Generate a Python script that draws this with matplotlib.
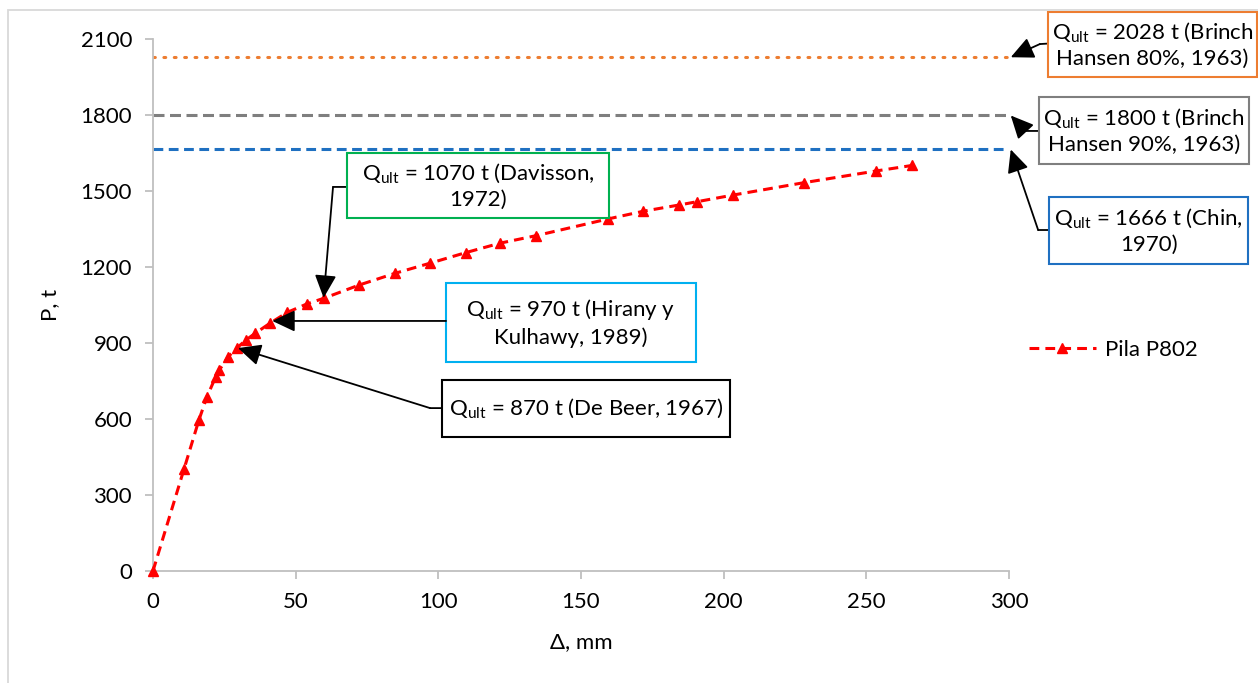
import matplotlib
matplotlib.use("Agg")
import matplotlib.pyplot as plt
from matplotlib.patches import Rectangle

plt.rcParams["font.family"] = ["Lato", "DejaVu Sans"]
plt.rcParams["mathtext.fontset"] = "custom"
plt.rcParams["mathtext.rm"] = "Lato"
plt.rcParams["mathtext.it"] = "Lato:italic"

# load-settlement curve, pile P802
delta_mm = [0, 10.9, 16.1, 18.9, 22.0, 23.3, 26.4, 29.3, 32.6, 35.8, 41.0, 47.1,
            53.9, 60.0, 72.3, 84.8, 97.1, 109.7, 121.6, 134.4, 159.6, 171.8,
            184.5, 190.8, 203.3, 228.2, 253.4, 266.1]
load_t = [0, 403, 596, 687, 767, 794, 846, 879, 912, 938, 978, 1021,
          1054, 1077, 1129, 1175, 1215, 1257, 1294, 1324, 1390, 1420,
          1445, 1458, 1484, 1533, 1579, 1601]

# reference capacities drawn as horizontal lines
ref_values = [2028, 1800, 1666]
ref_colors = ["#ED7D31", "#7F7F7F", "#1F70C1"]
ref_styles = [(0, (0.6, 2.8)), (0, (3.6, 1.8)), (0, (3.2, 1.8))]

Q = r"Q$_{\mathrm{ult}}$"
# annotation boxes: text, box (x0, x1, y0, y1) in data units, border colour
notes = [
    (Q + " = 1070 t (Davisson,\n1972)", (68.0, 159.8, 1394, 1650), "#00B050"),
    (Q + " = 970 t (Hirany y\nKulhawy, 1989)", (102.7, 190.3, 825, 1137), "#00B0F0"),
    (Q + " = 870 t (De Beer, 1967)", (101.3, 202.2, 529, 754), "black"),
    (Q + " = 2028 t (Brinch\nHansen 80%, 1963)", (313.7, 386.9, 1950, 2207), "#ED7D31"),
    (Q + " = 1800 t (Brinch\nHansen 90%, 1963)", (310.5, 384.2, 1607, 1871), "#7F7F7F"),
    (Q + " = 1666 t (Chin,\n1970)", (314.1, 383.8, 1212, 1476), "#1F70C1"),
]
# connector paths: box edge -> elbow -> arrow tip
connectors = [
    [(68.0, 1516), (63.1, 1516), (59.8, 1078)],
    [(102.7, 987), (102.7, 987), (41.8, 987)],
    [(101.3, 643), (97.1, 643), (29.8, 880)],
    [(313.7, 2082), (310.8, 2080), (300.6, 2028)],
    [(310.5, 1737), (305.6, 1737), (300.6, 1798)],
    [(314.1, 1346), (310.2, 1346), (300.6, 1664)],
]

FS = 16

fig = plt.figure(figsize=(12.58, 6.83), dpi=100)
ax = fig.add_axes([0.1216, 0.164, 0.6805, 0.7789])

for v, c, ls in zip(ref_values, ref_colors, ref_styles):
    ax.plot([0, 300], [v, v], color=c, lw=2.2, linestyle=ls,
            dash_capstyle="round" if c == "#ED7D31" else "butt")

ax.plot(delta_mm, load_t, color="#FF0000", lw=2.2, linestyle=(0, (3.2, 2.0)),
        marker="^", markersize=7.5, markeredgecolor="#FF0000",
        markerfacecolor="#FF0000", label="Pila P802", clip_on=False, zorder=5)

for (txt, (x0, x1, y0, y1), ec) in notes:
    ax.add_patch(Rectangle((x0, y0), x1 - x0, y1 - y0, facecolor="white",
                           edgecolor=ec, lw=1.5, clip_on=False, zorder=6))
    ax.text((x0 + x1) / 2, (y0 + y1) / 2, txt, ha="center", va="center",
            fontsize=FS, linespacing=1.3, zorder=7)

for path in connectors:
    (ex, ey), (mx, my), (tx, ty) = path
    ax.annotate("", xy=(mx, my), xytext=(ex, ey), annotation_clip=False,
                arrowprops=dict(arrowstyle="-", color="black", lw=1.3,
                                shrinkA=0, shrinkB=0))
    ax.annotate("", xy=(tx, ty), xytext=(mx, my), annotation_clip=False,
                arrowprops=dict(arrowstyle="-|>,head_length=0.7,head_width=0.33",
                                mutation_scale=20, color="black", lw=1.3,
                                shrinkA=0, shrinkB=0), zorder=8)

ax.set_xlim(0, 300)
ax.set_ylim(0, 2100)
ax.set_xticks(range(0, 301, 50))
ax.set_yticks(range(0, 2101, 300))
for s in ("top", "right"):
    ax.spines[s].set_visible(False)
for s in ("left", "bottom"):
    ax.spines[s].set_color("#BFBFBF")
    ax.spines[s].set_linewidth(1.3)
ax.tick_params(axis="both", direction="out", length=6, width=1.3,
               color="#BFBFBF", labelsize=FS)
ax.tick_params(axis="y", pad=9)
ax.tick_params(axis="x", pad=9)

ax.set_xlabel("Δ, mm", fontsize=FS)
ax.set_ylabel("P, t", fontsize=FS)
ax.xaxis.set_label_coords(0.5, -0.115)
ax.yaxis.set_label_coords(-0.109, 0.5)

ax.legend(loc="center left", bbox_to_anchor=(1.0, 0.415), frameon=False,
          fontsize=FS, handlelength=3.0, numpoints=1, handletextpad=0.4)

fig.add_artist(Rectangle((0.0064, -0.1), 1.2, 1.0854, transform=fig.transFigure,
                         fill=False, edgecolor="#D9D9D9", lw=1.3))

fig.savefig("out.png", dpi=100, facecolor="white")
